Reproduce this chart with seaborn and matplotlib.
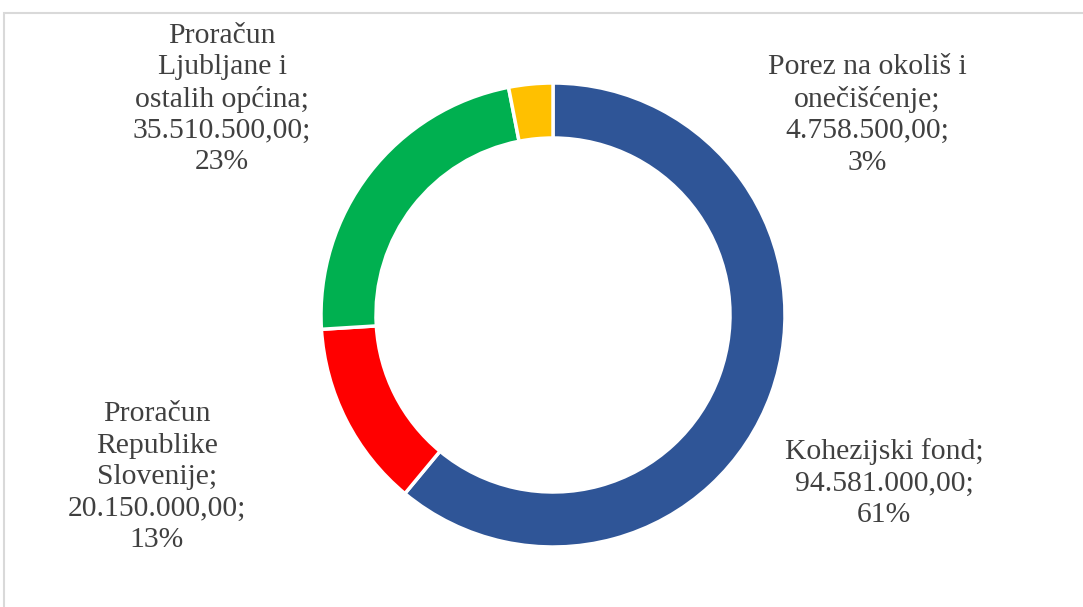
import matplotlib
matplotlib.use("Agg")
import matplotlib.pyplot as plt
import seaborn as sns
from matplotlib.patches import Rectangle

# data (clockwise from top)
names = ["Kohezijski fond", "Proračun Republike Slovenije",
         "Proračun Ljubljane i ostalih općina", "Porez na okoliš i onečišćenje"]
label_lines = [["Kohezijski fond;"],
               ["Proračun", "Republike", "Slovenije;"],
               ["Proračun", "Ljubljane i", "ostalih općina;"],
               ["Porez na okoliš i", "onečišćenje;"]]
values = [94581000.00, 20150000.00, 35510500.00, 4758500.00]
colors = ["#2F5597", "#FF0000", "#00B050", "#FFC000"]
# label centres in pixels (x, y from top)
label_pos = [(884, 483), (157, 477), (222, 99), (867, 115)]

sns.set_theme(style="white")
plt.rcParams["font.family"] = ["Liberation Serif", "DejaVu Serif"]

W, H = 1083, 607
fig = plt.figure(figsize=(W / 100, H / 100), dpi=100)
fig.patch.set_facecolor("white")

# light gray chart frame
fig.add_artist(Rectangle((4 / W, -0.1), 1.2, (H - 13) / H + 0.1,
                         transform=fig.transFigure, fill=False,
                         edgecolor="#D9D9D9", linewidth=1.5))

cx, cy, r = 553, 315, 232
ax = fig.add_axes([(cx - r) / W, (H - cy - r) / H, 2 * r / W, 2 * r / H])
ax.pie(values, colors=colors, startangle=90, counterclock=False,
       wedgeprops=dict(width=55 / r, edgecolor="white", linewidth=2.5))
ax.set_xlim(-1, 1)
ax.set_ylim(-1, 1)
ax.set_aspect("equal")
ax.axis("off")

total = sum(values)
for lines, v, (px, py) in zip(label_lines, values, label_pos):
    num = f"{v:,.2f}".replace(",", "X").replace(".", ",").replace("X", ".")
    pct = f"{round(v / total * 100):.0f}%"
    txt = "\n".join(lines + [num + ";", pct])
    fig.text(px / W, 1 - py / H, txt, ha="center", va="center",
             fontsize=21.3, color="#404040", linespacing=1.27)

fig.savefig("out.png", dpi=100, facecolor="white")
